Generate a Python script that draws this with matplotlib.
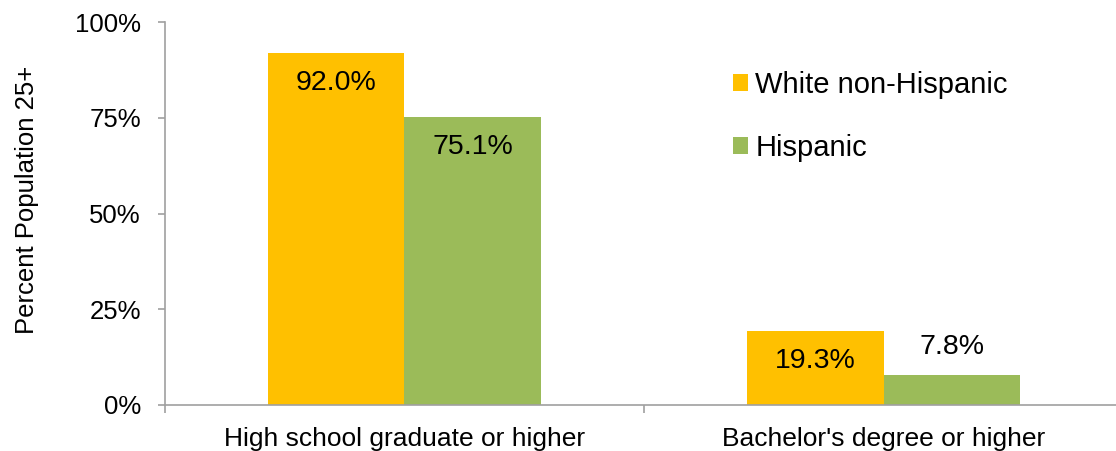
import numpy as np
import matplotlib.pyplot as plt
from matplotlib.ticker import PercentFormatter

plt.rcParams['font.family'] = ['Liberation Sans', 'DejaVu Sans']

# Data
categories = ["High school graduate or higher", "Bachelor's degree or higher"]
series_names = ["White non-Hispanic", "Hispanic"]
white = [92.0, 19.3]
hispanic = [75.1, 7.8]
colors = ["#FFC000", "#9BBB59"]

fig = plt.figure(figsize=(11.16, 4.51), dpi=100)
ax = fig.add_axes([0.1475, 0.102, 0.859, 0.849])

x = np.arange(len(categories))
w = 0.285
axis_color = "#A0A0A0"

for i, (vals, name) in enumerate(zip([white, hispanic], series_names)):
    pos = x + (i - 0.5) * w
    bars = ax.bar(pos, vals, width=w, color=colors[i], label=name, zorder=2)
    for b, v in zip(bars, vals):
        # small values get their label above the bar, others inside
        dy = 20 if v < 10 else -21.5
        ax.annotate(f"{v:.1f}%", (b.get_x() + b.get_width() / 2, v),
                    xytext=(0, dy), textcoords="offset points",
                    ha="center", va="center", fontsize=20.5)

ax.set_xlim(-0.5, 1.5)
ax.set_ylim(0, 100)
ax.set_yticks([0, 25, 50, 75, 100])
ax.yaxis.set_major_formatter(PercentFormatter(decimals=0))
ax.set_xticks(x)
ax.set_xticklabels(categories)
ax.set_xticks([-0.5, 0.5, 1.5], minor=True)
ax.tick_params(axis='x', which='major', length=0, pad=16, labelsize=19)
ax.tick_params(axis='x', which='minor', length=6, color=axis_color, width=1.2)
ax.tick_params(axis='y', length=5, color=axis_color, width=1.2, labelsize=18.5, pad=12)

for s in ['top', 'right']:
    ax.spines[s].set_visible(False)
for s in ['left', 'bottom']:
    ax.spines[s].set_color(axis_color)
    ax.spines[s].set_linewidth(1.2)

ax.set_ylabel("Percent Population 25+", fontsize=18.5, labelpad=26, y=0.535)

ax.legend(loc='upper left', bbox_to_anchor=(0.644, 0.875), bbox_transform=fig.transFigure,
          frameon=False, fontsize=21, handlelength=0.5, handleheight=0.5,
          handletextpad=0.25, labelspacing=1.2, borderpad=0)

fig.savefig("out.png", dpi=100)
